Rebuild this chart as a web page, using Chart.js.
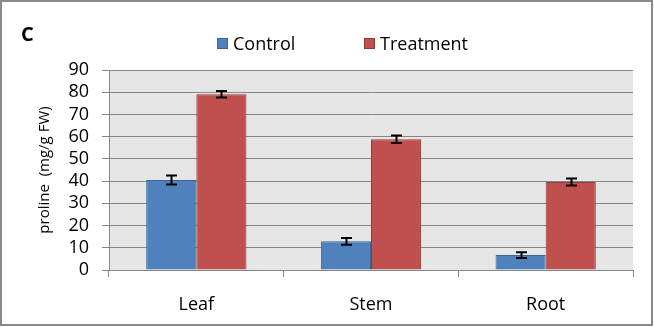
<!DOCTYPE html>
<html>
<head>
<meta charset="utf-8">
<script src="https://cdn.jsdelivr.net/npm/chart.js@4.4.0/dist/chart.umd.min.js"></script>
<style>
  html, body { margin: 0; padding: 0; background: #fff; }
  #wrap { position: relative; width: 654px; height: 327px; }
  #chart { position: absolute; left: 0; top: 0; }
  .panel { position: absolute; left: 21px; top: 20px; font-family: 'Open Sans', sans-serif; font-weight: bold; font-size: 20px; line-height: 27px; color: #000; }
  .legend { position: absolute; top: 31px; font-family: 'Open Sans', sans-serif; font-size: 18px; color: #000; white-space: nowrap; }
  .legend span.box { position: absolute; top: 7px; width: 9px; height: 9px; border: 1px solid; }
  .legend span.txt { position: absolute; top: 0; }
</style>
</head>
<body>
<div id="wrap">
  <canvas id="chart" width="654" height="327"></canvas>
  <div class="panel">C</div>
  <div class="legend" id="legend"></div>
</div>
<script>
// values
const categories = ['Leaf', 'Stem', 'Root'];
const controlValues = [40.5, 12.9, 6.7];
const controlErrors = [2.0, 1.5, 1.3];
const treatmentValues = [79.1, 58.8, 39.6];
const treatmentErrors = [1.5, 1.7, 1.6];
const seriesLabels = ['Control', 'Treatment'];
const yTicks = [0, 10, 20, 30, 40, 50, 60, 70, 80, 90];

const COLORS = {
    control: '#4f81bd',
    controlBorder: '#3b6597',
    treatment: '#c0504d',
    treatmentBorder: '#8e3b39',
    grid: '#868686',
    plotBg: '#e6e6e6',
    frame: '#8a8a8a'
};

// grey plot background + outer frame
const backdrop = {
    id: 'backdrop',
    beforeDraw(chart) {
        const { ctx, chartArea: a } = chart;
        ctx.save();
        ctx.fillStyle = COLORS.plotBg;
        ctx.fillRect(a.left, a.top, a.right - a.left, a.bottom - a.top);
        ctx.restore();
    },
    afterDraw(chart) {
        const ctx = chart.ctx;
        ctx.save();
        ctx.strokeStyle = COLORS.frame;
        ctx.lineWidth = 2;
        ctx.strokeRect(1, 1, chart.width - 3, chart.height - 3);
        ctx.restore();
    }
};

// error bars drawn through the y scale
const errorBars = {
    id: 'errorBars',
    afterDatasetsDraw(chart) {
        const { ctx } = chart;
        const y = chart.scales.y;
        ctx.save();
        ctx.strokeStyle = '#000';
        ctx.lineWidth = 2;
        chart.data.datasets.forEach((ds, i) => {
            const meta = chart.getDatasetMeta(i);
            meta.data.forEach((bar, j) => {
                const v = ds.data[j], e = ds.errors[j];
                const top = y.getPixelForValue(v + e);
                const bot = y.getPixelForValue(v - e);
                const x = Math.round(bar.x) + 0.5;
                ctx.beginPath();
                ctx.moveTo(x, top); ctx.lineTo(x, bot);
                ctx.moveTo(x - 5.5, top); ctx.lineTo(x + 5.5, top);
                ctx.moveTo(x - 5.5, bot); ctx.lineTo(x + 5.5, bot);
                ctx.stroke();
            });
        });
        ctx.restore();
    }
};

const chart = new Chart(document.getElementById('chart'), {
    type: 'bar',
    data: {
        labels: categories,
        datasets: [
            {
                label: seriesLabels[0],
                data: controlValues,
                errors: controlErrors,
                backgroundColor: COLORS.control,
                borderColor: COLORS.controlBorder,
                borderWidth: 1
            },
            {
                label: seriesLabels[1],
                data: treatmentValues,
                errors: treatmentErrors,
                backgroundColor: COLORS.treatment,
                borderColor: COLORS.treatmentBorder,
                borderWidth: 1
            }
        ]
    },
    options: {
        responsive: false,
        animation: false,
        devicePixelRatio: 1,
        categoryPercentage: 0.574,
        barPercentage: 1,
        layout: { padding: { left: 0, top: 70, right: 21, bottom: 0 } },
        plugins: {
            legend: { display: false },
            tooltip: { enabled: false }
        },
        scales: {
            x: {
                afterFit: s => { s.height = 57; },
                grid: {
                    offset: true,
                    drawOnChartArea: false,
                    color: COLORS.grid,
                    tickLength: 7
                },
                border: { color: COLORS.grid, width: 1 },
                ticks: {
                    color: '#000',
                    padding: 17,
                    font: { family: "'Open Sans', sans-serif", size: 18 }
                }
            },
            y: {
                min: 0,
                max: 90,
                afterFit: s => { s.width = 109; },
                afterBuildTicks: s => { s.ticks = yTicks.map(v => ({ value: v })); },
                grid: { color: COLORS.grid, tickLength: 7 },
                border: { color: COLORS.grid, width: 1 },
                ticks: {
                    autoSkip: false,
                    color: '#000',
                    padding: 13,
                    font: { family: "'Open Sans', sans-serif", size: 18 }
                },
                title: {
                    display: true,
                    text: 'proline  (mg/g FW)',
                    color: '#000',
                    padding: { top: 36, bottom: 0 },
                    font: { family: "'Open Sans', sans-serif", size: 15 }
                }
            }
        }
    },
    plugins: [backdrop, errorBars]
});

// legend, built from the datasets
const legendPos = [[217, 233], [364, 380]];
const legend = document.getElementById('legend');
chart.data.datasets.forEach((ds, i) => {
    const box = document.createElement('span');
    box.className = 'box';
    box.style.left = legendPos[i][0] + 'px';
    box.style.background = ds.backgroundColor;
    box.style.borderColor = ds.borderColor;
    const txt = document.createElement('span');
    txt.className = 'txt';
    txt.style.left = legendPos[i][1] + 'px';
    txt.textContent = ds.label;
    legend.appendChild(box);
    legend.appendChild(txt);
});
</script>
</body>
</html>
